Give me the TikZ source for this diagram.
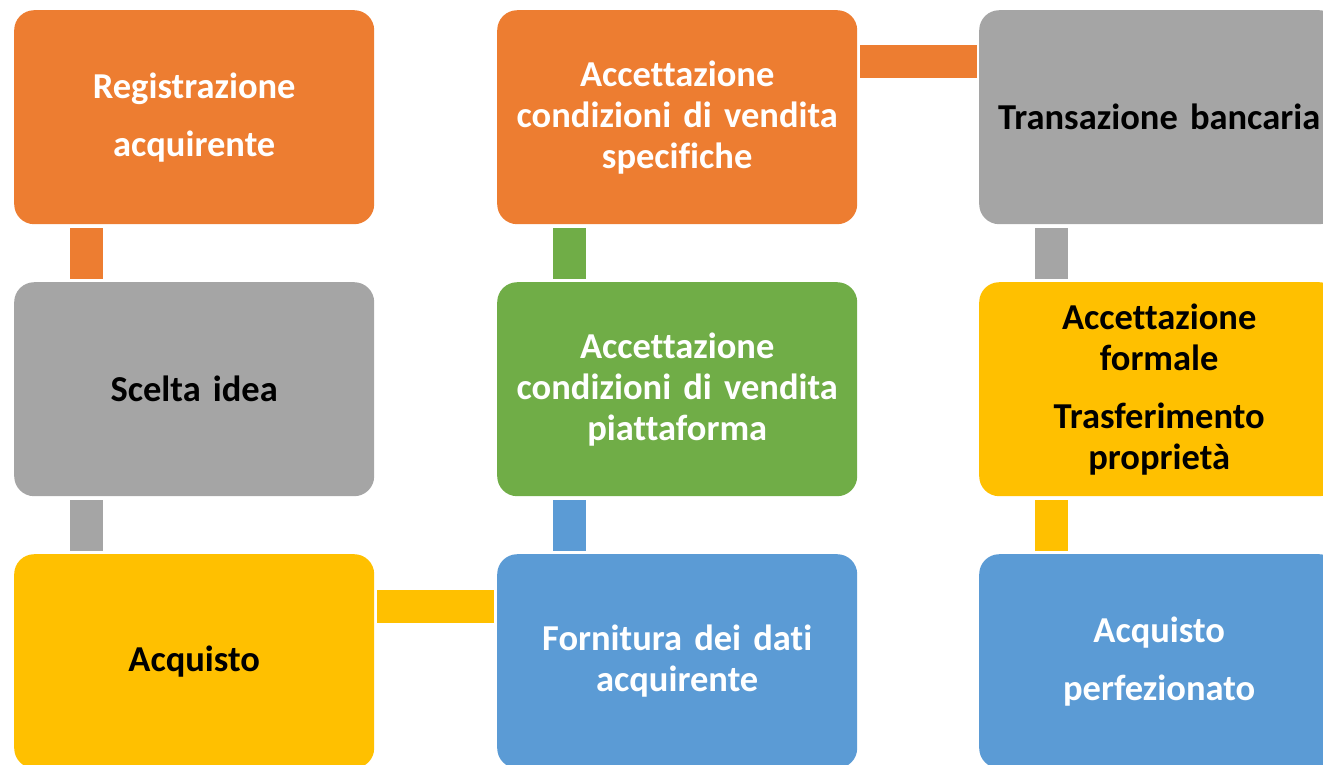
\documentclass[tikz,border=0pt]{standalone}
\usepackage{fontspec}
\setmainfont[Ligatures=NoCommon]{Carlito}
\definecolor{cOrange}{HTML}{ED7D31}
\definecolor{cGray}{HTML}{A5A5A5}
\definecolor{cYellow}{HTML}{FFC000}
\definecolor{cBlue}{HTML}{5B9BD5}
\definecolor{cGreen}{HTML}{70AD47}
\begin{document}
\begin{tikzpicture}[x=1pt,y=-1pt,
  box/.style={draw=none,rounded corners=20pt,minimum width=360pt,minimum height=214pt,
    anchor=north west,align=center,inner sep=0pt,text width=356pt,
    font=\fontsize{36.5}{41}\selectfont\bfseries},
  wbox/.style={box,text=white},
  kbox/.style={box,text=black}
]
\useasboundingbox (0,0) rectangle (1323,764);
\clip (0,0) rectangle (1323,764);
% column 1
\node[wbox,fill=cOrange] (reg) at (14,10) {Registrazione\\[17pt]acquirente};
\node[kbox,fill=cGray] (scelta) at (14,282) {Scelta idea};
\node[kbox,fill=cYellow] (acq) at (14,554) {Acquisto};
% column 2
\node[wbox,fill=cOrange] (spec) at (497,10) {Accettazione\\condizioni di vendita\\specifiche};
\node[wbox,fill=cGreen] (piatt) at (497,282) {Accettazione\\condizioni di vendita\\piattaforma};
\node[wbox,fill=cBlue] (forn) at (497,554) {Fornitura dei dati\\acquirente};
% column 3
\node[kbox,fill=cGray] (trans) at (979,10) {Transazione bancaria};
\node[kbox,fill=cYellow] (form) at (979,282) {Accettazione\\formale\\[17pt]Trasferimento\\proprietà};
\node[wbox,fill=cBlue] (perf) at (979,554) {Acquisto\\[17pt]perfezionato};
% connectors
\fill[cOrange] ([xshift=56pt,yshift=-4pt]reg.south west) rectangle ([xshift=89pt,yshift=3pt]scelta.north west);
\fill[cGray] ([xshift=56pt,yshift=-4pt]scelta.south west) rectangle ([xshift=89pt,yshift=3pt]acq.north west);
\fill[cYellow] ([xshift=3pt,yshift=-36pt]acq.north east) rectangle ([xshift=-3pt,yshift=-69pt]forn.north west);
\fill[cBlue] ([xshift=56pt,yshift=3pt]forn.north west) rectangle ([xshift=89pt,yshift=-4pt]piatt.south west);
\fill[cGreen] ([xshift=56pt,yshift=3pt]piatt.north west) rectangle ([xshift=89pt,yshift=-4pt]spec.south west);
\fill[cOrange] ([xshift=3pt,yshift=-35pt]spec.north east) rectangle ([xshift=-2pt,yshift=-68pt]trans.north west);
\fill[cGray] ([xshift=56pt,yshift=-4pt]trans.south west) rectangle ([xshift=89pt,yshift=3pt]form.north west);
\fill[cYellow] ([xshift=56pt,yshift=-4pt]form.south west) rectangle ([xshift=89pt,yshift=3pt]perf.north west);
\end{tikzpicture}
\end{document}
